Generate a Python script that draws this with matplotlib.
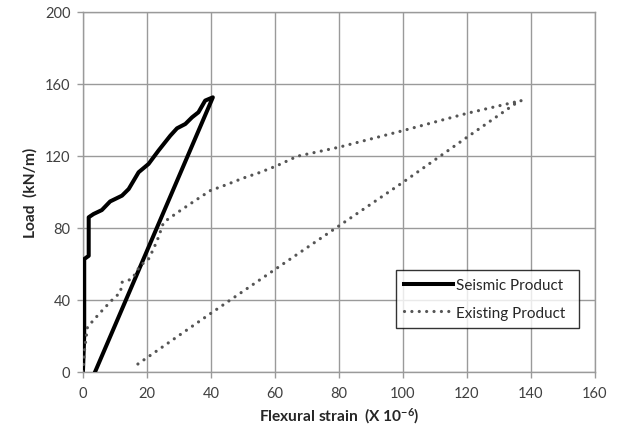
import matplotlib
matplotlib.use("Agg")
import matplotlib.pyplot as plt

plt.rcParams['font.family'] = ['Lato', 'DejaVu Sans']
plt.rcParams['mathtext.fontset'] = 'custom'
plt.rcParams['mathtext.rm'] = 'Lato'
plt.rcParams['mathtext.bf'] = 'Lato:bold'
plt.rcParams['mathtext.it'] = 'Lato:italic'

# Seismic product (strain x1e-6, load kN/m)
seismic_x = [0, 0.4, 0.4, 1.8, 1.8, 3.3, 5.9, 8.5, 12.2, 14.3, 17.4, 20.5, 23.6,
             27.3, 29.4, 32.0, 34.1, 36.1, 38.2, 40.6, 3.8]
seismic_y = [0, 20, 62.6, 64.4, 85.8, 87.6, 89.8, 94.6, 97.8, 101.5, 110.8, 115.4,
             122.8, 131.1, 135.2, 137.6, 141.3, 144.1, 150.6, 152.4, 0]

# Existing product
existing_x = [0, 0.5, 1.4, 3.3, 6.4, 9.6, 11.7, 12.2, 15.3, 17.9, 20.5, 22.0, 23.6,
              25.2, 30.0, 35.0, 39.8, 45.0, 50.0, 55.0, 60.6, 67.0, 80.0, 100.0,
              120.0, 137.0, 135.0, 120.0, 100.0, 80.0, 60.0, 40.0, 15.3]
existing_y = [0, 12, 24.7, 28.7, 34.8, 40.8, 44.0, 49.7, 51.5, 58.9, 62.6, 68.0, 74.7,
              83.0, 89.0, 95.0, 100.6, 104.0, 107.5, 110.5, 114.4, 119.7, 124.7, 133.9,
              143.5, 150.6, 148.7, 130.2, 105.2, 81.0, 56.8, 32.5, 2.0]

x_ticks = [0, 20, 40, 60, 80, 100, 120, 140, 160]
y_ticks = [0, 40, 80, 120, 160, 200]

fig = plt.figure(figsize=(6.19, 4.35), dpi=100)
ax = fig.add_axes([0.134, 0.143, 0.827, 0.828])

ax.plot(seismic_x, seismic_y, color='black', lw=2.9, solid_joinstyle='round',
        label='Seismic Product', zorder=3)
ax.plot(existing_x, existing_y, color='#555555', lw=2.3, linestyle=(0, (0.01, 2.3)),
        dash_capstyle='round', label='Existing Product', zorder=3)

ax.set_xlim(0, 160)
ax.set_ylim(0, 200)
ax.set_xticks(x_ticks)
ax.set_yticks(y_ticks)
ax.grid(True, color='#9a9a9a', lw=1.0)
ax.set_axisbelow(True)
for s in ax.spines.values():
    s.set_color('#9a9a9a')
    s.set_linewidth(1.0)
ax.tick_params(axis='both', colors='#9a9a9a', labelcolor='#404040', labelsize=10.5,
               length=4, width=1.0, direction='out')
ax.tick_params(axis='x', pad=6)
ax.tick_params(axis='y', pad=5)

ax.set_xlabel(r'Flexural strain  (X 10$^{\mathbf{-6}}$)', fontsize=11.2, fontweight='bold',
              color='#262626', labelpad=4)
ax.set_ylabel('Load  (kN/m)', fontsize=11.2, fontweight='bold', color='#262626', labelpad=5)

leg = ax.legend(loc='lower left', bbox_to_anchor=(0.611, 0.121, 0.358, 0.181),
                mode='expand', frameon=True, fancybox=False, fontsize=11,
                handlelength=3.2, handletextpad=0.2, borderpad=0.55, labelspacing=0.9,
                borderaxespad=0)
leg.get_frame().set_edgecolor('black')
leg.get_frame().set_linewidth(1.0)
for t in leg.get_texts():
    t.set_color('#262626')

fig.savefig('out.png', dpi=100)
